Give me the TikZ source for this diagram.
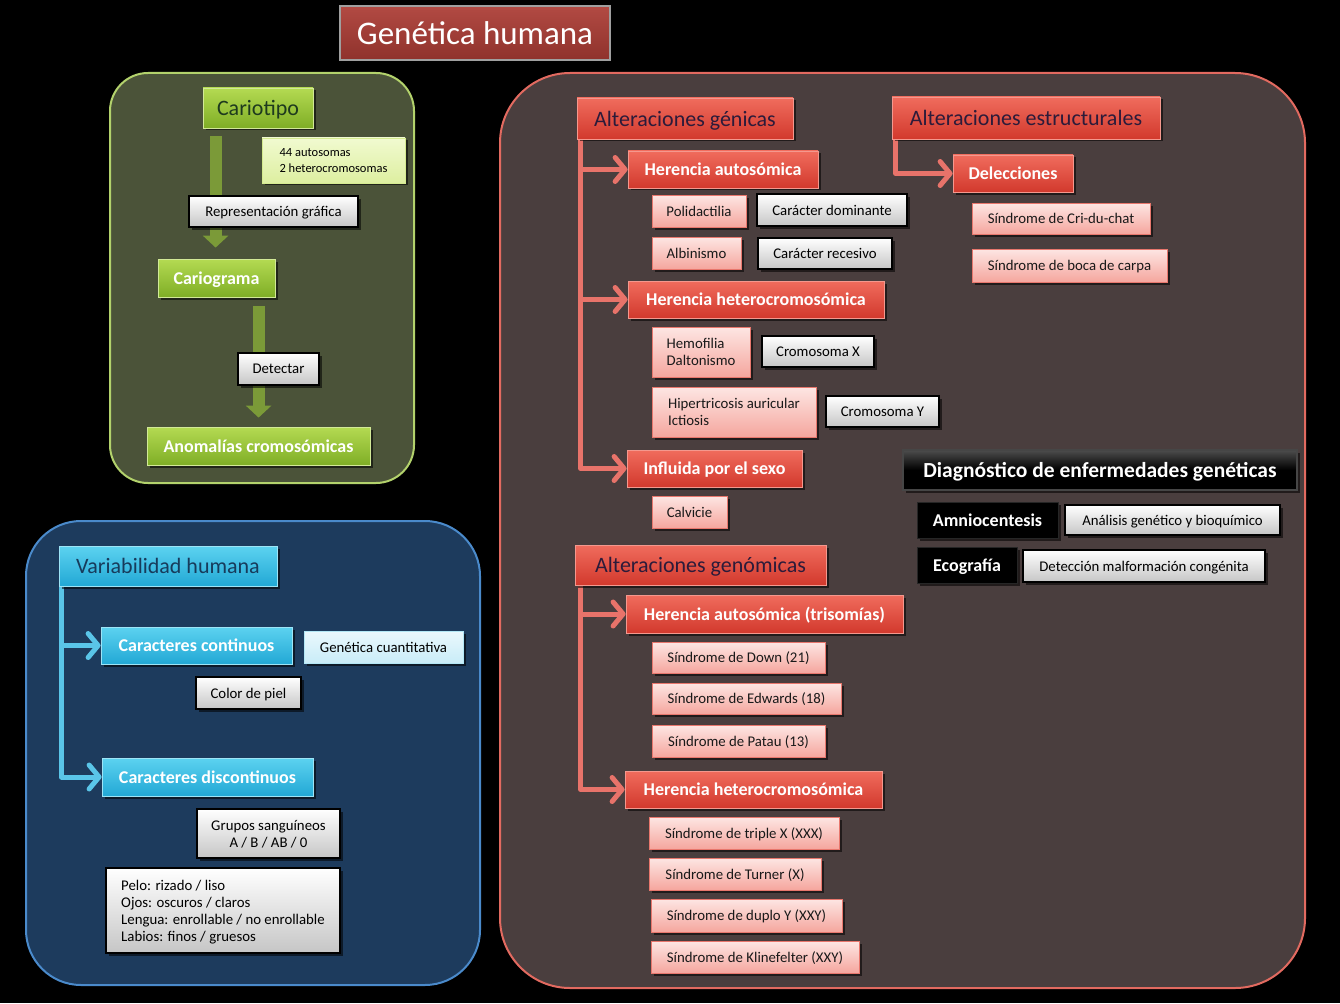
\documentclass[tikz,border=0pt]{standalone}
\usepackage{fontspec}
\setmainfont{Carlito}
\usetikzlibrary{arrows.meta,shadows}
\definecolor{gpanel}{HTML}{4B5339}
\definecolor{gpanelb}{HTML}{B3D26C}
\definecolor{bpanel}{HTML}{1D3B5D}
\definecolor{bpanelb}{HTML}{4A8ACB}
\definecolor{rpanel}{HTML}{4A3E3E}
\definecolor{rpanelb}{HTML}{E26A60}
\definecolor{gtop}{HTML}{B4DA52}
\definecolor{gbot}{HTML}{7FAE26}
\definecolor{garrow}{HTML}{7B9A38}
\definecolor{ltgreen}{HTML}{F1FAD0}
\definecolor{ltgreenb}{HTML}{DDEFA0}
\definecolor{ctop}{HTML}{5CD2F0}
\definecolor{cbot}{HTML}{22A8D5}
\definecolor{cline}{HTML}{5AC5E8}
\definecolor{ltcyan}{HTML}{EAF8FD}
\definecolor{ltcyanb}{HTML}{C9ECF8}
\definecolor{rtop}{HTML}{F06C5D}
\definecolor{rbot}{HTML}{D2392D}
\definecolor{rline}{HTML}{E8736A}
\definecolor{ptop}{HTML}{FDE6E3}
\definecolor{pbot}{HTML}{F5A69E}
\definecolor{pedge}{HTML}{E8776D}
\definecolor{ttop}{HTML}{B24A43}
\definecolor{tbot}{HTML}{8F322C}
\definecolor{darkpurple}{HTML}{2C1B3A}
\definecolor{darkgreen}{HTML}{1E3A1E}
\definecolor{darknavy}{HTML}{173B5B}
\newcommand\myT{\fontsize{33}{36}\selectfont}
\newcommand\myL{\fontsize{22}{26}\selectfont}
\newcommand\myM{\fontsize{18}{22}\selectfont\bfseries}
\newcommand\myS{\fontsize{14.8}{17}\selectfont}
\newcommand\myXS{\fontsize{12.5}{16}\selectfont}
\newcommand\bx[7]{\node[#1,minimum width={(#4-#2)*1pt},minimum height={(#5-#3)*1pt}] (#6) at ({(#2+#4)/2},{(#3+#5)/2}) {#7};}
\pgfdeclarelayer{panel}
\pgfdeclarelayer{conn}
\pgfsetlayers{panel,conn,main}
\begin{document}
\begin{tikzpicture}[x=1pt,y=-1pt,
  box/.style={rectangle, inner sep=0pt, align=center, text depth=0pt,
    drop shadow={shadow xshift=2.5pt, shadow yshift=-2.5pt, opacity=0.55, fill=black}},
  titlebox/.style={box, top color=ttop, bottom color=tbot, draw=gray!75, line width=1.5pt, text=white, font=\myT},
  greenL/.style={box, top color=gtop, bottom color=gbot, draw=gtop!60!white, line width=0.8pt, text=darkgreen, font=\myL},
  greenM/.style={box, top color=gtop, bottom color=gbot, draw=gtop!60!white, line width=0.8pt, text=white, font=\myM},
  ltgbox/.style={box, top color=ltgreen, bottom color=ltgreenb, draw=ltgreenb!80!gtop, line width=0.8pt, text=black, font=\myXS, align=left},
  graybox/.style={box, top color=white, bottom color=gray!45, draw=black, line width=1.1pt, text=black, font=\myS},
  grayboxl/.style={graybox, align=left},
  cyanL/.style={box, top color=ctop, bottom color=cbot, draw=ctop!60!white, line width=0.8pt, text=darknavy, font=\myL},
  cyanM/.style={box, top color=ctop, bottom color=cbot, draw=ctop!60!white, line width=0.8pt, text=white, font=\myM},
  ltcbox/.style={box, top color=ltcyan, bottom color=ltcyanb, draw=ltcyanb!80!ctop, line width=0.8pt, text=black, font=\myS},
  redL/.style={box, top color=rtop, bottom color=rbot, draw=rtop!70!white, line width=0.8pt, text=darkpurple, font=\myL},
  redM/.style={box, top color=rtop, bottom color=rbot, draw=rtop!70!white, line width=0.8pt, text=white, font=\myM},
  pinkbox/.style={box, top color=ptop, bottom color=pbot, draw=pedge, line width=1pt, text=black!90, font=\myS},
  pinkboxl/.style={pinkbox, align=left},
  blackL/.style={box, top color=gray!60!black, bottom color=black, middle color=black, draw=gray!55!black, line width=2pt, text=white, font=\fontsize{21.5}{26}\selectfont\bfseries},
  blackM/.style={box, fill=black, draw=black!85!white, line width=1pt, text=white, font=\myM},
  garr/.style={draw=garrow, line width=12pt, -{Triangle[width=25pt,length=12pt]}},
  barr/.style={draw=cline, line width=5pt, line join=round, -{Straight Barb[round,length=10pt,width=24pt]}},
  rarr/.style={draw=rline, line width=5pt, line join=round, -{Straight Barb[round,length=10pt,width=24pt]}}
]
\useasboundingbox (0,0) rectangle (1340,1003);

\begin{pgfonlayer}{panel}
\fill[black] (0,0) rectangle (1340,1003);
\draw[fill=gpanel, draw=gpanelb, line width=2pt, rounded corners=38pt] (110,73) rectangle (414,483);
\draw[fill=bpanel, draw=bpanelb, line width=2pt, rounded corners=55pt] (26,521) rectangle (480,985);
\draw[fill=rpanel, draw=rpanelb, line width=2pt, rounded corners=70pt] (500,73) rectangle (1305,988);
\end{pgfonlayer}

% title
\bx{titlebox}{340}{6}{610}{60}{title}{Genética humana}

% green panel
\bx{greenL}{203}{88}{313}{128}{cario}{Cariotipo}
\bx{ltgbox}{262}{138}{405}{183}{auto}{44 autosomas\\2 heterocromosomas}
\bx{graybox}{189}{196}{358}{227}{repr}{Representación gráfica}
\bx{greenM}{158}{259}{275}{297}{cgram}{Cariograma}
\bx{graybox}{238}{353}{319}{385}{detec}{Detectar}
\bx{greenM}{147}{427}{370}{465}{anom}{Anomalías cromosómicas}

% blue panel
\bx{cyanL}{59}{546}{277}{586}{vh}{Variabilidad humana}
\bx{cyanM}{101}{627}{292}{664}{cc}{Caracteres continuos}
\bx{ltcbox}{304}{631}{463}{663}{gq}{Genética cuantitativa}
\bx{graybox}{196}{677}{301}{709}{cp}{Color de piel}
\bx{cyanM}{102}{758}{313}{796}{cd}{Caracteres discontinuos}
\bx{graybox}{197}{809}{340}{858}{gs}{Grupos sanguíneos\\A / B / AB / 0}
\bx{grayboxl}{106}{868}{340}{953}{pelo}{Pelo: rizado / liso\\Ojos: oscuros / claros\\Lengua: enrollable / no enrollable\\Labios: finos / gruesos}

% red panel: génicas
\bx{redL}{577}{98}{793}{139}{ag}{Alteraciones génicas}
\bx{redM}{628}{151}{818}{188}{ha}{Herencia autosómica}
\bx{pinkbox}{652}{195}{746}{227}{poli}{Polidactilia}
\bx{graybox}{757}{194}{907}{226}{cdom}{Carácter dominante}
\bx{pinkbox}{652}{237}{741}{269}{albi}{Albinismo}
\bx{graybox}{758}{238}{892}{269}{crec}{Carácter recesivo}
\bx{redM}{628}{281}{884}{318}{hh}{Herencia heterocromosómica}
\bx{pinkboxl}{652}{327}{750}{377}{hemo}{Hemofilia\\Daltonismo}
\bx{graybox}{762}{336}{874}{367}{crx}{Cromosoma X}
\bx{pinkboxl}{652}{387}{816}{437}{hipe}{Hipertricosis auricular\\Ictiosis}
\bx{graybox}{826}{396}{939}{427}{cry}{Cromosoma Y}
\bx{redM}{627}{450}{802}{487}{inf}{Influida por el sexo}
\bx{pinkbox}{652}{496}{727}{528}{calv}{Calvicie}

% estructurales
\bx{redL}{892}{97}{1160}{139}{ae}{Alteraciones estructurales}
\bx{redM}{953}{155}{1073}{192}{dele}{Delecciones}
\bx{pinkbox}{972}{203}{1150}{234}{cri}{Síndrome de Cri-du-chat}
\bx{pinkbox}{972}{249}{1167}{282}{boca}{Síndrome de boca de carpa}

% diagnóstico
\bx{blackL}{903}{450}{1297}{490}{diag}{Diagnóstico de enfermedades genéticas}
\bx{blackM}{917}{502}{1058}{538}{amnio}{Amniocentesis}
\bx{graybox}{1065}{505}{1280}{535}{anal}{Análisis genético y bioquímico}
\bx{blackM}{917}{547}{1017}{583}{eco}{Ecografía}
\bx{graybox}{1023}{550}{1265}{582}{detm}{Detección malformación congénita}

% genómicas
\bx{redL}{575}{545}{826}{585}{agen}{Alteraciones genómicas}
\bx{redM}{626}{595}{903}{633}{hat}{Herencia autosómica (trisomías)}
\bx{pinkbox}{652}{642}{825}{673}{down}{Síndrome de Down (21)}
\bx{pinkbox}{652}{683}{841}{714}{edw}{Síndrome de Edwards (18)}
\bx{pinkbox}{652}{725}{825}{757}{pat}{Síndrome de Patau (13)}
\bx{redM}{625}{771}{882}{808}{hh2}{Herencia heterocromosómica}
\bx{pinkbox}{649}{817}{839}{849}{tri}{Síndrome de triple X (XXX)}
\bx{pinkbox}{649}{858}{821}{890}{tur}{Síndrome de Turner (X)}
\bx{pinkbox}{651}{899}{842}{932}{dup}{Síndrome de duplo Y (XXY)}
\bx{pinkbox}{651}{941}{859}{973}{kli}{Síndrome de Klinefelter (XXY)}

% connectors
\coordinate (vt) at ([xshift=3pt]vh.south west);
\coordinate (rt1) at ([xshift=4pt]ag.south west);
\coordinate (rt2) at ([xshift=4pt]ae.south west);
\coordinate (rt3) at ([xshift=6pt]agen.south west);
\begin{pgfonlayer}{conn}
\draw[garr] ([xshift=13pt,yshift=-8pt]cario.south west) -- ([xshift=58pt,yshift=11pt]cgram.north west);
\draw[garr] ([xshift=101pt,yshift=-9pt]cgram.south west) -- ([xshift=112pt,yshift=9pt]anom.north west);
\draw[barr] (vt) |- (cd.west);
\draw[barr] (vt |- cc.west) -- (cc.west);
\draw[rarr] (rt1) |- (inf.west);
\draw[rarr] (rt1 |- ha.west) -- (ha.west);
\draw[rarr] (rt1 |- hh.west) -- (hh.west);
\draw[rarr] (rt2) |- (dele.west);
\draw[rarr] (rt3) |- (hh2.west);
\draw[rarr] (rt3 |- hat.west) -- (hat.west);
\end{pgfonlayer}
\end{tikzpicture}
\end{document}
